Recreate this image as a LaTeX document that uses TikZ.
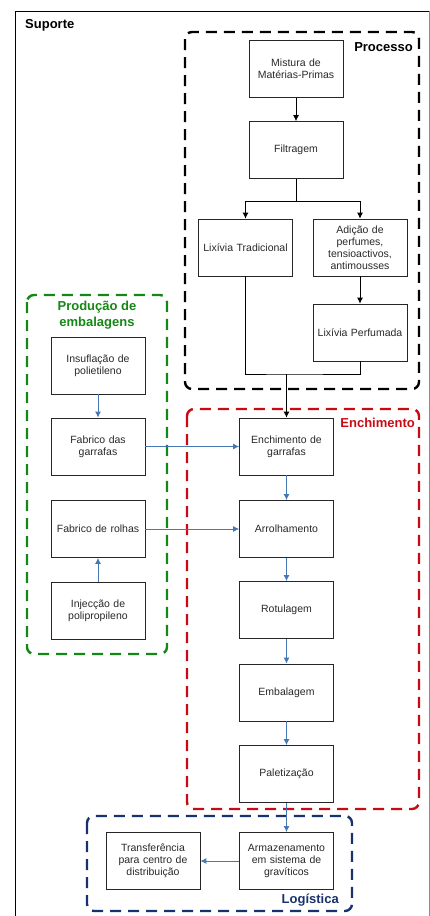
\documentclass[tikz,border=0pt]{standalone}
\usepackage{fontspec}
\setmainfont{Liberation Sans}
\usetikzlibrary{arrows.meta}
\definecolor{txt}{RGB}{40,40,40}
\definecolor{arrblue}{RGB}{70,120,180}
\definecolor{grpgreen}{RGB}{20,135,20}
\definecolor{grpred}{RGB}{200,10,20}
\definecolor{grpnavy}{RGB}{25,50,110}
\tikzset{
  box/.style={draw=black!85, line width=0.8pt, minimum width=94pt, minimum height=57pt,
    align=center, text=txt, text width=90pt, inner sep=1pt,
    font=\fontsize{10.5}{12}\selectfont},
  grp/.style={line width=2.4pt, dash pattern=on 11pt off 7pt, rounded corners=7pt},
  glabel/.style={font=\fontsize{13}{16}\selectfont\bfseries, inner sep=0pt},
  blk/.style={draw=black, line width=0.8pt},
  blkarr/.style={blk, -{Latex[length=6pt,width=6pt]}},
  bluearr/.style={draw=arrblue, line width=0.9pt, -{Latex[length=6pt,width=6pt]}}
}
\begin{document}
\begin{tikzpicture}[x=1pt,y=-1pt]
\useasboundingbox (0,0) rectangle (430,916);
% outer frame
\draw[black, line width=0.8pt] (15,916) -- (15,11) -- (429,11);
\draw[black!45, line width=0.8pt] (429,11) -- (429,916);
\node[glabel, anchor=west] (sup) at (25,25) {Suporte};

% groups
\draw[grp, black] (185,32) rectangle (419,389);
\node[glabel, anchor=east] (lproc) at (413,47) {Processo};
\draw[grp, grpred] (187,409) rectangle (419,809);
\node[glabel, anchor=east, text=grpred] (lench) at (415,423) {Enchimento};
\draw[grp, grpgreen] (27,295) rectangle (167,654);
\node[glabel, align=center, text=grpgreen] (lprod) at (97,315) {Produção de\\embalagens};
\draw[grp, grpnavy] (87,816) rectangle (352,911);
\node[glabel, anchor=east, text=grpnavy] (llog) at (339,900) {Logística};

% process boxes
\node[box] (mis) at (296,69) {Mistura de\\Matérias-Primas};
\node[box] (fil) at (296,150) {Filtragem};
\node[box] (lt) at (245.5,247.5) {Lixívia Tradicional};
\node[box] (ad) at (360,247.5) {Adição de\\perfumes,\\tensioactivos,\\antimousses};
\node[box] (lp) at (360,332.5) {Lixívia Perfumada};

% enchimento boxes
\node[box] (eg) at (286.5,446.5) {Enchimento de\\garrafas};
\node[box] (arr) at (286.5,529) {Arrolhamento};
\node[box] (rot) at (286.5,610) {Rotulagem};
\node[box] (emb) at (286.5,692.5) {Embalagem};
\node[box] (pal) at (286.5,774) {Paletização};

% logistica boxes
\node[box] (arm) at (286.5,861) {Armazenamento\\em sistema de\\gravíticos};
\node[box] (tr) at (153,861) {Transferência\\para centro de\\distribuição};

% producao boxes
\node[box] (ins) at (98,365.5) {Insuflação de\\polietileno};
\node[box] (fg) at (98,446.5) {Fabrico das\\garrafas};
\node[box] (fr) at (98,529) {Fabrico de rolhas};
\node[box] (inj) at (98,611) {Injecção de\\polipropileno};

% black connectors
\draw[blkarr] (mis.south) -- (fil.north);
\coordinate (br) at (296,201);
\draw[blk] (fil.south) -- (br);
\draw[blkarr] (br) -| (lt.north);
\draw[blkarr] (br) -| (ad.north);
\draw[blkarr] (ad.south) -- (lp.north);
\coordinate (mg) at (286.5,374);
\draw[blk] (lt.south) |- (mg) -| (lp.south);
\draw[blkarr] (mg) -- (eg.north);

% blue connectors
\draw[bluearr] (ins.south) -- (fg.north);
\draw[bluearr] (inj.north) -- (fr.south);
\draw[bluearr] (fg.east) -- (eg.west);
\draw[bluearr] (fr.east) -- (arr.west);
\draw[bluearr] (eg.south) -- (arr.north);
\draw[bluearr] (arr.south) -- (rot.north);
\draw[bluearr] (rot.south) -- (emb.north);
\draw[bluearr] (emb.south) -- (pal.north);
\draw[bluearr] (pal.south) -- (arm.north);
\draw[bluearr] (arm.west) -- (tr.east);
\end{tikzpicture}
\end{document}
